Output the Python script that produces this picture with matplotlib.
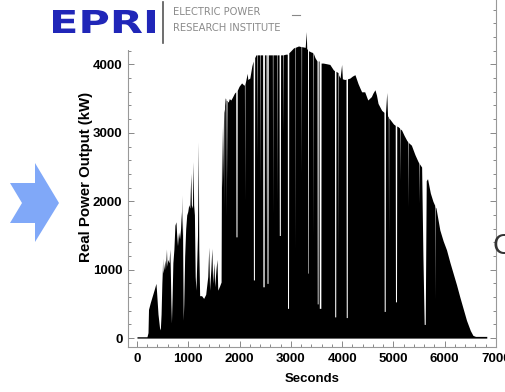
import numpy as np
import matplotlib
matplotlib.use("Agg")
import matplotlib.pyplot as plt
from matplotlib.ticker import MultipleLocator
from matplotlib.patches import Polygon, Rectangle, PathPatch
from matplotlib.textpath import TextPath
from matplotlib.font_manager import FontProperties
from matplotlib.transforms import Affine2D

# ---------------- data ----------------
seconds = [0, 195, 215, 225, 260, 300, 340, 370, 380, 410, 440, 455, 470, 485, 495, 500, 505, 530,
           545, 555, 575, 585, 600, 625, 640, 650, 662, 672, 685, 700, 720, 740, 760, 775, 790, 810,
           830, 850, 865, 875, 885, 892, 902, 912, 930, 950, 970, 990, 1010, 1030, 1050, 1060, 1080,
           1095, 1105, 1120, 1135, 1150, 1165, 1180, 1195, 1205, 1222, 1260, 1300, 1340, 1380, 1400,
           1415, 1440, 1460, 1475, 1500, 1515, 1540, 1560, 1575, 1610, 1640, 1650, 1665, 1690, 1700,
           1705, 1710, 1720, 1730, 1735, 1740, 1755, 1760, 1765, 1780, 1800, 1830, 1860, 1900, 1925,
           1930, 1950, 1955, 1990, 2040, 2080, 2095, 2100, 2105, 2150, 2160, 2200, 2240, 2265, 2270,
           2290, 2295, 2320, 2335, 2340, 2345, 2380, 2395, 2400, 2405, 2450, 2455, 2480, 2485, 2505,
           2510, 2515, 2530, 2535, 2555, 2560, 2640, 2645, 2650, 2720, 2725, 2730, 2770, 2775, 2795,
           2800, 2840, 2845, 2850, 2900, 2930, 2935, 2955, 2960, 3000, 3050, 3075, 3080, 3085, 3150,
           3200, 3205, 3210, 3280, 3300, 3310, 3325, 3330, 3340, 3345, 3400, 3425, 3430, 3435, 3470,
           3510, 3515, 3530, 3535, 3550, 3555, 3585, 3590, 3630, 3700, 3760, 3830, 3850, 3855, 3875,
           3880, 3920, 3925, 3930, 3960, 3990, 4005, 4050, 4075, 4080, 4100, 4105, 4150, 4200, 4250,
           4310, 4350, 4380, 4440, 4500, 4570, 4600, 4640, 4670, 4700, 4770, 4815, 4820, 4840, 4845,
           4870, 4885, 4900, 4905, 4910, 4960, 5000, 5035, 5040, 5060, 5065, 5090, 5120, 5125, 5130,
           5160, 5210, 5260, 5280, 5285, 5290, 5350, 5420, 5480, 5495, 5500, 5505, 5550, 5575, 5600,
           5620, 5640, 5665, 5720, 5770, 5805, 5810, 5815, 5830, 5905, 5970, 6035, 6100, 6165, 6230,
           6295, 6360, 6425, 6500, 6550, 6600, 6820]
power_kw = [20, 20, 80, 420, 520, 620, 720, 800, 700, 350, 150, 120, 350, 800, 1000, 1170, 950, 1050,
            1140, 1000, 1300, 1050, 1150, 1100, 1300, 1000, 500, 220, 600, 1100, 1300, 1650, 1700, 1500,
            1350, 1550, 1450, 1600, 1850, 1500, 2090, 1200, 260, 500, 1200, 1600, 1800, 1850, 1950,
            1900, 2410, 1950, 1900, 2580, 1950, 1800, 900, 700, 1100, 1500, 2870, 1300, 620, 620, 580,
            640, 900, 1330, 700, 1000, 1310, 800, 1100, 750, 1000, 1150, 700, 760, 820, 3090, 2200,
            3300, 3350, 1900, 3400, 3510, 3500, 1780, 3480, 3470, 2300, 3460, 3450, 3500, 3480, 3520,
            3580, 3600, 1480, 1480, 3620, 3680, 3730, 3700, 3700, 2000, 3710, 3870, 3780, 3800, 3980,
            4050, 850, 850, 4100, 4140, 4140, 2600, 4140, 4140, 4140, 2200, 4140, 4140, 750, 750, 4140,
            4140, 1500, 4140, 4140, 800, 800, 4140, 4140, 1800, 4140, 4140, 1970, 4140, 4140, 1500,
            1500, 4140, 4140, 3000, 4140, 4150, 4150, 435, 435, 4170, 4200, 4240, 4250, 1290, 4250,
            4270, 4260, 2400, 4260, 4250, 4480, 4230, 4220, 950, 950, 4200, 4180, 4175, 1480, 4170,
            4100, 4050, 500, 500, 4050, 4050, 435, 435, 4020, 4020, 4010, 4000, 3920, 3910, 310, 310,
            3900, 3880, 1200, 3850, 3800, 4000, 3790, 3780, 3785, 300, 300, 3790, 3800, 3830, 3850,
            3720, 3650, 3600, 3600, 3480, 3530, 3580, 3630, 3550, 3430, 3330, 3300, 390, 390, 3290,
            3590, 3250, 3230, 1480, 3220, 3170, 3130, 3110, 530, 530, 3100, 3090, 3070, 2300, 3060,
            3040, 2960, 2890, 2870, 1920, 2860, 2820, 2680, 2580, 2560, 1970, 2550, 2500, 1200, 200,
            200, 2300, 2330, 2120, 2000, 1940, 560, 1920, 1900, 1580, 1420, 1290, 1110, 945, 780,
            600, 430, 260, 110, 40, 25, 25]

x_ticks = [0, 1000, 2000, 3000, 4000, 5000, 6000, 7000]
y_ticks = [0, 1000, 2000, 3000, 4000]
x_label = "Seconds"
y_label = "Real Power Output (kW)"

# ---------------- figure ----------------
W, H = 505, 392
fig = plt.figure(figsize=(W / 100, H / 100), dpi=100)
fig.patch.set_facecolor("white")


def fx(px):
    return px / W


def fy(py):
    return 1 - py / H


ax = fig.add_axes([fx(128), fy(347), fx(496) - fx(128), fy(-5) - fy(347)])
ax.fill_between(seconds, power_kw, 0, color="black", lw=0)
ax.set_xlim(-175, 7000)
ax.set_ylim(-130, 5015)

ax.set_xticks(x_ticks)
ax.set_yticks(y_ticks)
ax.xaxis.set_minor_locator(MultipleLocator(200))
ax.yaxis.set_minor_locator(MultipleLocator(200))
ax.tick_params(which="both", direction="in", top=False, right=True,
               color="#888888", width=0.7, labelcolor="black")
ax.tick_params(which="major", length=4, pad=4)
ax.tick_params(which="minor", length=2.5)
for sp in ax.spines.values():
    sp.set_color("#999999")
    sp.set_linewidth(0.8)
ax.spines["top"].set_visible(False)

tick_fp = FontProperties(family="Liberation Sans", weight="bold", size=9.5)
for lbl in ax.get_xticklabels() + ax.get_yticklabels():
    lbl.set_fontproperties(tick_fp)

ax.set_xlabel(x_label, fontsize=9.5, family="Liberation Sans", weight="bold")
ax.set_ylabel(y_label, fontsize=10.8, family="Liberation Sans", weight="bold")
ax.xaxis.set_label_coords(0.5, (347 - 373) / 352)
ax.yaxis.set_label_coords((93 - 128) / 368, (347 - 177) / 352)

# ---------------- slide decorations ----------------
# white box behind the logo
fig.add_artist(Rectangle((0, fy(50)), fx(289), 1 - fy(50), transform=fig.transFigure,
                         facecolor="white", edgecolor="none", zorder=5))

# EPRI letters fitted into their box
tp = TextPath((0, 0), "EPRI", size=1, prop=FontProperties(family="DejaVu Sans", weight="bold"))
bb = tp.get_extents()
x0, x1, y0, y1 = 53, 155, 10, 33
tr = (Affine2D().translate(-bb.x0, -bb.y0)
      .scale((x1 - x0) / bb.width, (y1 - y0) / bb.height)
      .translate(x0, H - y1)
      .scale(1 / W, 1 / H))
fig.add_artist(PathPatch(tr.transform_path(tp), transform=fig.transFigure,
                         facecolor="#2026b8", edgecolor="none", zorder=6))
fig.add_artist(plt.Line2D([fx(163), fx(163)], [fy(2), fy(43)], transform=fig.transFigure,
                          color="#555555", lw=1.2, zorder=6))
fig.text(fx(173), fy(12), "ELECTRIC POWER", fontsize=7.2, color="#8a8a8a",
         family="DejaVu Sans", va="center", ha="left", zorder=6)
fig.text(fx(173), fy(28), "RESEARCH INSTITUTE", fontsize=7.2, color="#8a8a8a",
         family="DejaVu Sans", va="center", ha="left", zorder=6)
fig.add_artist(plt.Line2D([fx(292), fx(300)], [fy(15), fy(15)], transform=fig.transFigure,
                          color="#888888", lw=0.8, zorder=6))

# blue chevron arrow
arrow_px = [(10, 183), (35, 183), (35, 163), (59, 203), (35, 242), (35, 223), (10, 223), (22, 203)]
fig.add_artist(Polygon([(fx(a), fy(b)) for a, b in arrow_px], closed=True,
                       transform=fig.transFigure, facecolor="#80a8f8", edgecolor="none"))

# cut-off slide text at the right edge
fig.text(fx(492), fy(246), "C", fontsize=21, color="#333333", family="Liberation Sans",
         va="center", ha="left")

fig.savefig("out.png", dpi=100)
